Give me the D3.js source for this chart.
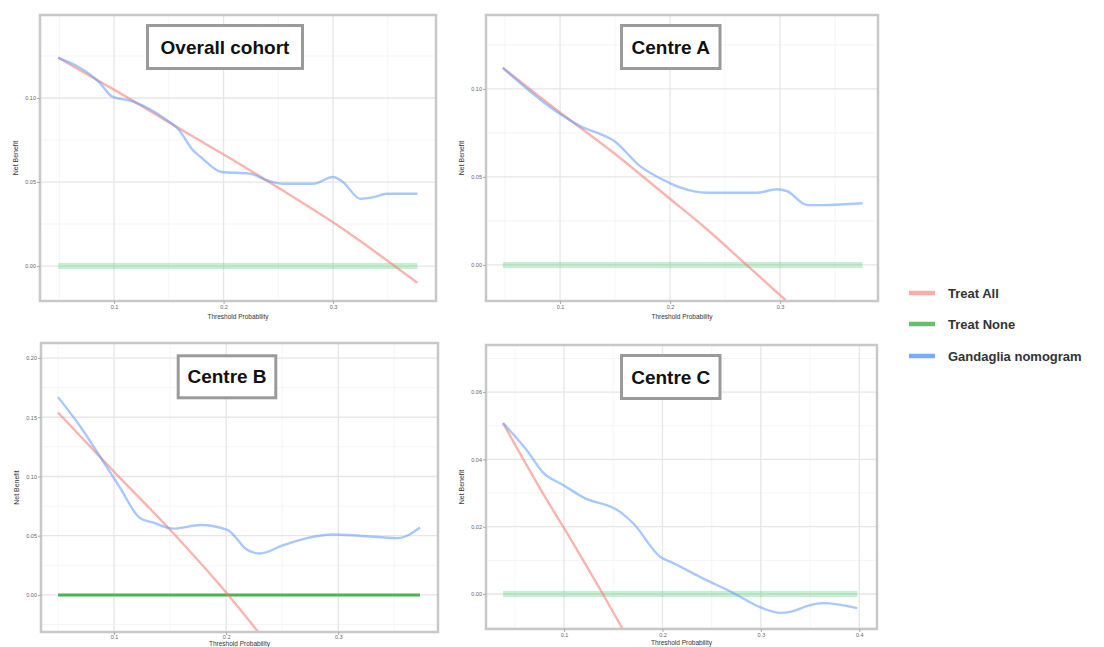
<!DOCTYPE html>
<html><head><meta charset="utf-8">
<script src="https://cdn.jsdelivr.net/npm/d3@7"></script>
<style>body{margin:0;background:#fff} svg{display:block}</style>
</head><body><svg id="c" width="1104" height="647"></svg>
<script>
// ---------------- DATA ----------------
const seriesNames = ["Treat All", "Treat None", "Gandaglia nomogram"];
const panelTitles = ["Overall cohort", "Centre A", "Centre B", "Centre C"];

// Overall cohort
const overallThreshold = [0.049,0.087,0.098,0.117,0.148,0.158,0.172,0.179,0.198,0.224,0.240,0.254,0.282,0.300,0.309,0.325,0.337,0.349,0.377];
const overallNomogram  = [0.124,0.109,0.101,0.098,0.087,0.082,0.069,0.065,0.056,0.055,0.051,0.049,0.049,0.053,0.050,0.040,0.041,0.043,0.043];
const overallAllThreshold = [0.049,0.100,0.167,0.209,0.249,0.300,0.377];
const overallTreatAll     = [0.124,0.105,0.079,0.063,0.047,0.026,-0.010];

// Centre A
const aThreshold = [0.048,0.097,0.121,0.134,0.148,0.173,0.198,0.209,0.234,0.279,0.297,0.306,0.325,0.339,0.375];
const aNomogram  = [0.112,0.087,0.078,0.075,0.071,0.056,0.047,0.044,0.041,0.041,0.043,0.042,0.034,0.034,0.035];
const aAllThreshold = [0.048,0.097,0.148,0.199,0.234,0.266,0.305];
const aTreatAll     = [0.112,0.088,0.064,0.038,0.020,0.002,-0.020];

// Centre B
const bThreshold = [0.050,0.070,0.088,0.105,0.123,0.135,0.153,0.177,0.201,0.219,0.230,0.251,0.272,0.295,0.319,0.353,0.373];
const bNomogram  = [0.167,0.142,0.116,0.091,0.065,0.061,0.056,0.059,0.055,0.038,0.035,0.042,0.048,0.051,0.050,0.048,0.057];
const bAllThreshold = [0.050,0.099,0.150,0.200,0.230];
const bTreatAll     = [0.154,0.105,0.055,0.002,-0.033];

// Centre C
const cThreshold = [0.038,0.062,0.079,0.099,0.119,0.157,0.170,0.198,0.211,0.238,0.272,0.299,0.320,0.330,0.350,0.363,0.398];
const cNomogram  = [0.0508,0.0428,0.0360,0.0324,0.0288,0.0244,0.0211,0.0110,0.0092,0.0051,0.0003,-0.0039,-0.0056,-0.0053,-0.0033,-0.0027,-0.0042];
const cAllThreshold = [0.038,0.076,0.109,0.140,0.159];
const cTreatAll     = [0.0508,0.0312,0.0152,-0.0003,-0.0101];

// Tick values / labels
const overallXTicks = [0.1,0.2,0.3];       const overallYTicks = [0.00,0.05,0.10];
const aXTicks = [0.1,0.2,0.3];             const aYTicks = [0.00,0.05,0.10];
const bXTicks = [0.1,0.2,0.3];             const bYTicks = [0.00,0.05,0.10,0.15,0.20];
const cXTicks = [0.1,0.2,0.3,0.4];         const cYTicks = [0.00,0.02,0.04,0.06];
const xTickFormat = d3.format(".1f");
const yTickFormat = d3.format(".2f");

// ---------------- LAYOUT ----------------
const panels = [
  {title: panelTitles[0], box:[40,15,436,301], xd:[0.0324,0.394], yd:[-0.0208,0.1494],
   xt:overallXTicks, yt:overallYTicks, thr:overallThreshold, nom:overallNomogram, athr:overallAllThreshold, all:overallTreatAll,
   tb:[147.5,25.5,155,43], strongNone:false, titleGap:18, tickPad:1},
  {title: panelTitles[1], box:[486,15,878,301], xd:[0.0327,0.389], yd:[-0.0205,0.142],
   xt:aXTicks, yt:aYTicks, thr:aThreshold, nom:aNomogram, athr:aAllThreshold, all:aTreatAll,
   tb:[621.5,25.5,98.5,43], strongNone:false, titleGap:18, tickPad:1},
  {title: panelTitles[2], box:[41,343,438,632], xd:[0.0348,0.389], yd:[-0.0313,0.2127],
   xt:bXTicks, yt:bYTicks, thr:bThreshold, nom:bNomogram, athr:bAllThreshold, all:bTreatAll,
   tb:[178.2,355.8,97.6,42], strongNone:true, titleGap:14, tickPad:0},
  {title: panelTitles[3], box:[486,345,877,629], xd:[0.0207,0.418], yd:[-0.0104,0.074],
   xt:cXTicks, yt:cYTicks, thr:cThreshold, nom:cNomogram, athr:cAllThreshold, all:cTreatAll,
   tb:[621.5,355.5,98.5,43], strongNone:false, titleGap:15.5, tickPad:1}
];

const colAll = "#F8766D", colNone = "#00BA38", colNom = "#619CFF";
const svg = d3.select("#c");
const FONT = "'Liberation Sans', Arial, Helvetica, sans-serif";

panels.forEach((p, i) => {
  const [L,T,R,B] = p.box;
  const x = d3.scaleLinear().domain(p.xd).range([L,R]);
  const y = d3.scaleLinear().domain(p.yd).range([B,T]);
  const g = svg.append("g");

  // grid
  const xStep = p.xt[1]-p.xt[0], yStep = p.yt[1]-p.yt[0];
  const xMinor = d3.range(p.xt[0]-xStep*0.5, p.xd[1], xStep).filter(v => v>p.xd[0] && v<p.xd[1]);
  const yMinor = d3.range(p.yt[0]-yStep*0.5, p.yd[1], yStep).filter(v => v>p.yd[0] && v<p.yd[1]);
  g.selectAll(null).data(xMinor).join("line").attr("x1",d=>x(d)).attr("x2",d=>x(d)).attr("y1",T).attr("y2",B)
    .attr("stroke","#f2f2f2").attr("stroke-width",0.8);
  g.selectAll(null).data(yMinor).join("line").attr("y1",d=>y(d)).attr("y2",d=>y(d)).attr("x1",L).attr("x2",R)
    .attr("stroke","#f2f2f2").attr("stroke-width",0.8);
  g.selectAll(null).data(p.xt).join("line").attr("x1",d=>x(d)).attr("x2",d=>x(d)).attr("y1",T).attr("y2",B)
    .attr("stroke","#e6e6e6").attr("stroke-width",1.3);
  g.selectAll(null).data(p.yt).join("line").attr("y1",d=>y(d)).attr("y2",d=>y(d)).attr("x1",L).attr("x2",R)
    .attr("stroke","#e6e6e6").attr("stroke-width",1.3);

  // clip
  const cid = "clip"+i;
  svg.append("clipPath").attr("id",cid).append("rect").attr("x",L).attr("y",T).attr("width",R-L).attr("height",B-T);
  const lines = g.append("g").attr("clip-path",`url(#${cid})`);
  const line = d3.line().curve(d3.curveMonotoneX).x(d=>x(d[0])).y(d=>y(d[1]));

  // Treat None
  const noneX = [p.thr[0], p.thr[p.thr.length-1]];
  lines.append("path").datum(noneX.map(v=>[v,0])).attr("d",line).attr("fill","none")
    .attr("stroke", p.strongNone ? "#4DB351" : colNone)
    .attr("stroke-opacity", p.strongNone ? 1 : 0.22)
    .attr("stroke-width", p.strongNone ? 3 : 6);
  // Treat All
  lines.append("path").datum(p.athr.map((v,k)=>[v,p.all[k]])).attr("d",line).attr("fill","none")
    .attr("stroke",colAll).attr("stroke-opacity",0.55).attr("stroke-width",2.4);
  // Nomogram
  lines.append("path").datum(p.thr.map((v,k)=>[v,p.nom[k]])).attr("d",line).attr("fill","none")
    .attr("stroke",colNom).attr("stroke-opacity",0.55).attr("stroke-width",2.4);

  // border
  g.append("rect").attr("x",L).attr("y",T).attr("width",R-L).attr("height",B-T)
    .attr("fill","none").attr("stroke","#c8c8c8").attr("stroke-width",2.5);

  // axes
  const ax = g.append("g").attr("transform",`translate(0,${B})`)
    .call(d3.axisBottom(x).tickValues(p.xt).tickFormat(xTickFormat).tickSize(3).tickPadding(p.tickPad));
  const ay = g.append("g").attr("transform",`translate(${L},0)`)
    .call(d3.axisLeft(y).tickValues(p.yt).tickFormat(yTickFormat).tickSize(3).tickPadding(1));
  [ax,ay].forEach(a => {
    a.select(".domain").remove();
    a.selectAll(".tick line").attr("stroke","#aaa");
    a.selectAll(".tick text").attr("fill","#666").style("font-size","5.5px").style("font-family",FONT);
  });

  // axis titles
  g.append("text").attr("x",(L+R)/2).attr("y",B+p.titleGap).attr("text-anchor","middle")
    .style("font-size","6.5px").style("font-family",FONT).attr("fill","#333").text("Threshold Probability");
  g.append("text").attr("transform",`translate(${L-22},${(T+B)/2}) rotate(-90)`).attr("text-anchor","middle")
    .style("font-size","7px").style("font-family",FONT).attr("fill","#333").text("Net Benefit");

  // title box
  const [bx,by,bw,bh] = p.tb;
  g.append("rect").attr("x",bx).attr("y",by).attr("width",bw).attr("height",bh)
    .attr("fill","#fff").attr("stroke","#9a9a9a").attr("stroke-width",3);
  g.append("text").attr("x",bx+bw/2).attr("y",by+bh/2).attr("text-anchor","middle").attr("dominant-baseline","central")
    .style("font-size","19px").style("font-weight","bold").style("font-family",FONT).attr("fill","#111").text(p.title);
});

// legend
const legColors = [ {c:colAll, o:0.6}, {c:"#4DB351", o:0.85}, {c:colNom, o:0.85} ];
const legY = [293, 324, 356];
const leg = svg.append("g");
seriesNames.forEach((n,k) => {
  leg.append("line").attr("x1",909).attr("x2",935).attr("y1",legY[k]).attr("y2",legY[k])
    .attr("stroke",legColors[k].c).attr("stroke-opacity",legColors[k].o).attr("stroke-width",4.5);
  leg.append("text").attr("x",948).attr("y",legY[k]).attr("dominant-baseline","central")
    .style("font-size","13px").style("font-weight","bold").style("font-family",FONT).attr("fill","#333").text(n);
});
</script></body></html>
